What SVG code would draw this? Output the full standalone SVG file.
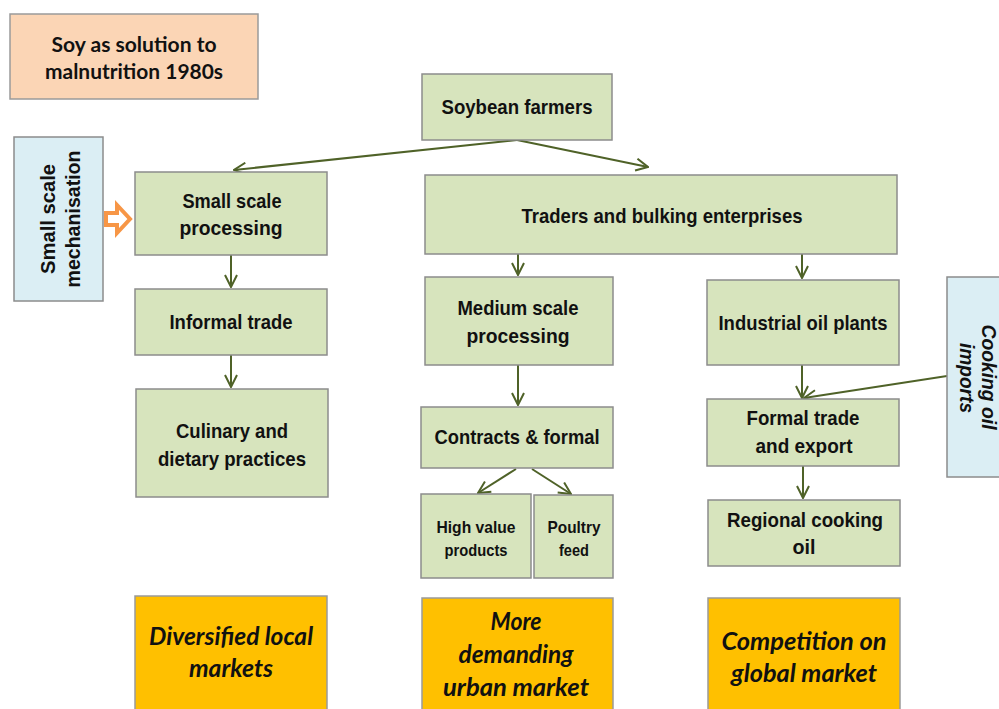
<svg xmlns="http://www.w3.org/2000/svg" width="999" height="709" viewBox="0 0 999 709">
<style>
.g{fill:#D7E4BD;stroke:#8C8C8C;stroke-width:1.5}
.p{fill:#FBD5B5;stroke:#9A9A9A;stroke-width:1.5}
.b{fill:#DBEEF4;stroke:#8C8C8C;stroke-width:1.5}
.y{fill:#FFC000;stroke:#9A9A9A;stroke-width:1.5}
.t{font-family:"Liberation Sans",Arial,sans-serif;font-weight:bold;font-size:21px;fill:#111;text-anchor:middle}
.s{font-size:17px}
.c{font-family:Lato,"Open Sans",sans-serif;font-weight:bold;font-size:20px;fill:#111;text-anchor:middle}
.ci{font-family:Lato,"Open Sans",sans-serif;font-weight:bold;font-style:italic;font-size:24px;fill:#111;text-anchor:middle}
.ti{font-family:"Liberation Sans",Arial,sans-serif;font-weight:bold;font-style:italic;font-size:20px;fill:#111;text-anchor:middle}
.l{fill:none;stroke:#4F6228;stroke-width:2;marker-end:url(#ah)}
</style>
<defs>
<marker id="ah" viewBox="0 0 14 14" refX="13" refY="7" markerWidth="14" markerHeight="14" markerUnits="userSpaceOnUse" orient="auto">
<path d="M1,1 L13,7 L1,13" fill="none" stroke="#4F6228" stroke-width="2"/>
</marker>
</defs>
<rect width="999" height="709" fill="#fff"/>
<g id="connectors">
<line class="l" x1="517" y1="140" x2="234" y2="170"/>
<line class="l" x1="517" y1="140" x2="648" y2="167"/>
<line class="l" x1="231" y1="255" x2="231" y2="287"/>
<line class="l" x1="231" y1="355" x2="231" y2="387"/>
<line class="l" x1="518" y1="254" x2="518" y2="275"/>
<line class="l" x1="802" y1="254" x2="802" y2="278"/>
<line class="l" x1="518" y1="365" x2="518" y2="405"/>
<line class="l" x1="802" y1="365" x2="802" y2="398"/>
<line class="l" x1="947" y1="376" x2="804" y2="398"/>
<line class="l" x1="516" y1="469" x2="478" y2="493"/>
<line class="l" x1="532" y1="469" x2="571" y2="494"/>
<line class="l" x1="803" y1="466" x2="803" y2="498"/>
<polygon points="106,213 117,213 117,205 130,219 117,233 117,225 106,225" fill="#fff" stroke="#F79646" stroke-width="4"/>
</g>
<g id="soy">
<rect class="p" x="10" y="14" width="248" height="85"/>
<text class="c" x="134" y="52" textLength="165" lengthAdjust="spacingAndGlyphs">Soy as solution to</text>
<text class="c" x="134" y="79" textLength="178" lengthAdjust="spacingAndGlyphs">malnutrition 1980s</text>
</g>
<g id="mechanisation">
<rect class="b" x="14" y="137" width="89" height="164"/>
<text class="t" transform="translate(55,219) rotate(-90)" textLength="110" lengthAdjust="spacingAndGlyphs">Small scale</text>
<text class="t" transform="translate(80,219) rotate(-90)" textLength="137" lengthAdjust="spacingAndGlyphs">mechanisation</text>
</g>
<g id="small-processing">
<rect class="g" x="135" y="172" width="192" height="83"/>
<text class="t" x="232" y="208" textLength="99" lengthAdjust="spacingAndGlyphs">Small scale</text>
<text class="t" x="231" y="235" textLength="103" lengthAdjust="spacingAndGlyphs">processing</text>
</g>
<g id="informal">
<rect class="g" x="135" y="289" width="192" height="66"/>
<text class="t" x="231" y="329" textLength="123" lengthAdjust="spacingAndGlyphs">Informal trade</text>
</g>
<g id="culinary">
<rect class="g" x="136" y="389" width="192" height="108"/>
<text class="t" x="232" y="438" textLength="112" lengthAdjust="spacingAndGlyphs">Culinary and</text>
<text class="t" x="232" y="466" textLength="148" lengthAdjust="spacingAndGlyphs">dietary practices</text>
</g>
<g id="farmers">
<rect class="g" x="422" y="74" width="190" height="66"/>
<text class="t" x="517" y="114" textLength="151" lengthAdjust="spacingAndGlyphs">Soybean farmers</text>
</g>
<g id="traders">
<rect class="g" x="425" y="175" width="472" height="79"/>
<text class="t" x="662" y="223" textLength="281" lengthAdjust="spacingAndGlyphs">Traders and bulking enterprises</text>
</g>
<g id="medium">
<rect class="g" x="425" y="277" width="188" height="88"/>
<text class="t" x="518" y="315" textLength="121" lengthAdjust="spacingAndGlyphs">Medium scale</text>
<text class="t" x="518" y="343" textLength="103" lengthAdjust="spacingAndGlyphs">processing</text>
</g>
<g id="industrial">
<rect class="g" x="707" y="280" width="192" height="85"/>
<text class="t" x="803" y="330" textLength="169" lengthAdjust="spacingAndGlyphs">Industrial oil plants</text>
</g>
<g id="imports">
<rect class="b" x="947" y="277" width="60" height="200"/>
<text class="ti" transform="translate(982,377) rotate(90)" textLength="105" lengthAdjust="spacingAndGlyphs">Cooking oil</text>
<text class="ti" transform="translate(960,378) rotate(90)" textLength="70" lengthAdjust="spacingAndGlyphs">imports</text>
</g>
<g id="contracts">
<rect class="g" x="421" y="407" width="192" height="61"/>
<text class="t" x="517" y="444" textLength="165" lengthAdjust="spacingAndGlyphs">Contracts &amp; formal</text>
</g>
<g id="highvalue">
<rect class="g" x="421" y="494" width="110" height="84"/>
<text class="t s" x="476" y="533" textLength="79" lengthAdjust="spacingAndGlyphs">High value</text>
<text class="t s" x="476" y="556" textLength="63" lengthAdjust="spacingAndGlyphs">products</text>
</g>
<g id="poultry">
<rect class="g" x="534" y="495" width="79" height="83"/>
<text class="t s" x="574" y="533" textLength="53" lengthAdjust="spacingAndGlyphs">Poultry</text>
<text class="t s" x="574" y="556" textLength="30" lengthAdjust="spacingAndGlyphs">feed</text>
</g>
<g id="formal">
<rect class="g" x="707" y="399" width="192" height="67"/>
<text class="t" x="803" y="425" textLength="113" lengthAdjust="spacingAndGlyphs">Formal trade</text>
<text class="t" x="804" y="453" textLength="97" lengthAdjust="spacingAndGlyphs">and export</text>
</g>
<g id="regional">
<rect class="g" x="708" y="500" width="192" height="66"/>
<text class="t" x="805" y="527" textLength="156" lengthAdjust="spacingAndGlyphs">Regional cooking</text>
<text class="t" x="804" y="554" textLength="23" lengthAdjust="spacingAndGlyphs">oil</text>
</g>
<g id="local">
<rect class="y" x="135" y="596" width="192" height="120"/>
<text class="ci" x="231" y="645" textLength="164" lengthAdjust="spacingAndGlyphs">Diversified  local</text>
<text class="ci" x="231" y="677" textLength="84" lengthAdjust="spacingAndGlyphs">markets</text>
</g>
<g id="urban">
<rect class="y" x="422" y="598" width="191" height="120"/>
<text class="ci" x="516" y="630" textLength="51" lengthAdjust="spacingAndGlyphs">More</text>
<text class="ci" x="516" y="663" textLength="115" lengthAdjust="spacingAndGlyphs">demanding</text>
<text class="ci" x="516" y="696" textLength="146" lengthAdjust="spacingAndGlyphs">urban  market</text>
</g>
<g id="global">
<rect class="y" x="708" y="598" width="192" height="120"/>
<text class="ci" x="804" y="650" textLength="165" lengthAdjust="spacingAndGlyphs">Competition  on</text>
<text class="ci" x="804" y="682" textLength="146" lengthAdjust="spacingAndGlyphs">global market</text>
</g>
</svg>
